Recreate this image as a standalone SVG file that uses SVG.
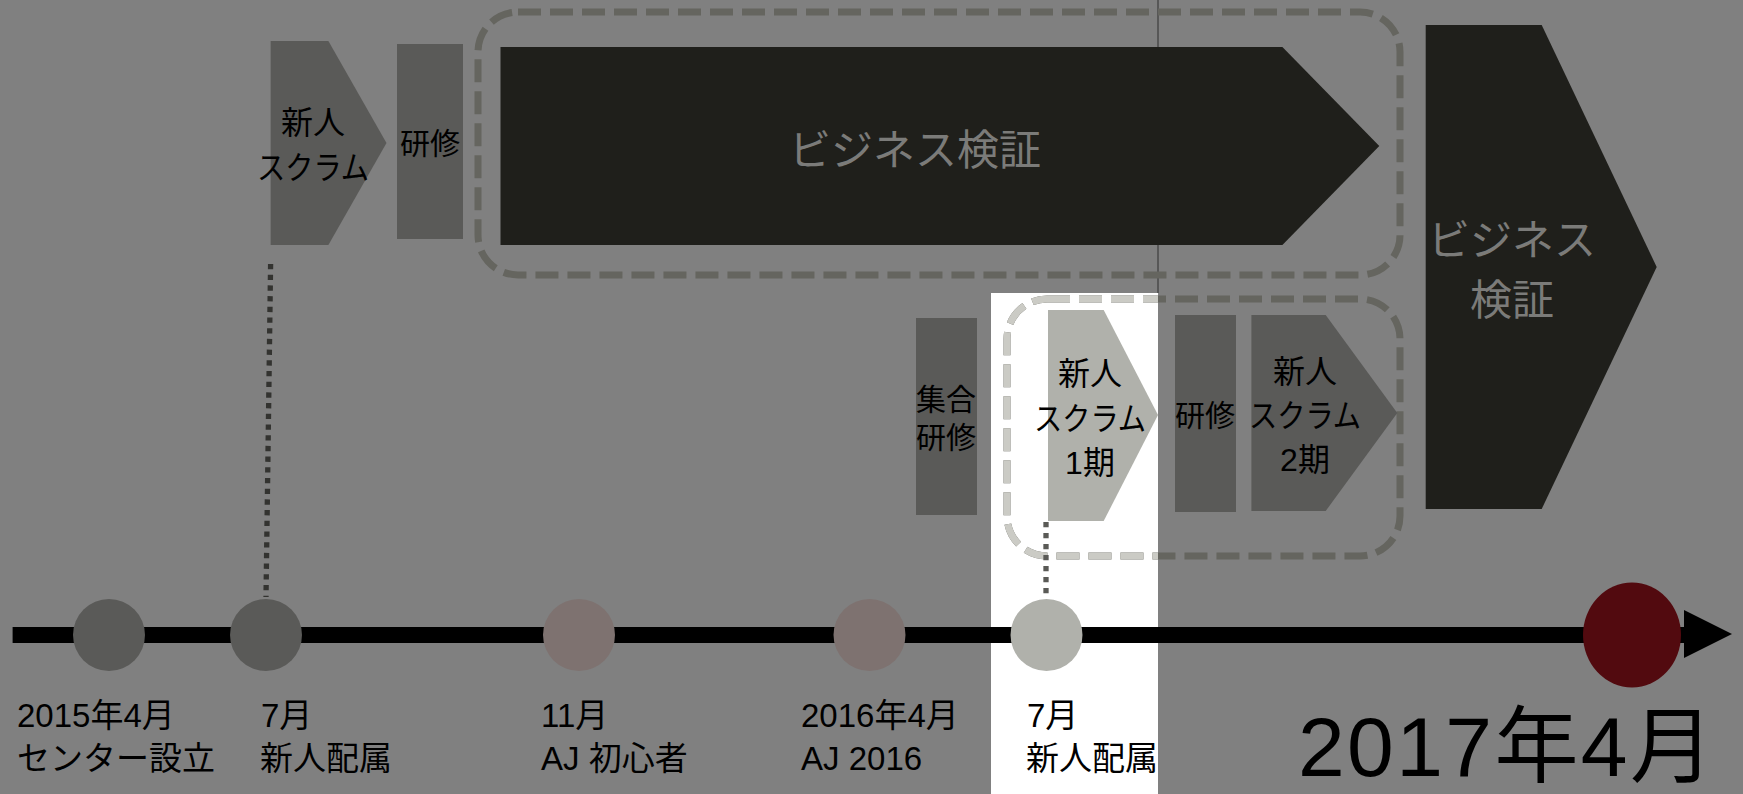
<svg xmlns="http://www.w3.org/2000/svg" width="1743" height="794" viewBox="0 0 1743 794">
<defs>
<style>
.t{font-family:"Liberation Sans","Noto Sans CJK JP",sans-serif;fill:#000}
.lbl{font-size:33px}
.nd{font-size:32px;text-anchor:middle}
.sm{font-size:30px;text-anchor:middle}
.big{font-size:42px;text-anchor:middle;fill:#7b7b79}
.mid{fill:#5a5a58}
.dark{fill:#1f1f1b}
.dashD{fill:none;stroke:#65655f;stroke-width:7;stroke-dasharray:23 9}
.dashL{fill:none;stroke:#cbcbc5;stroke-width:7;stroke-dasharray:23 9}
</style>
<clipPath id="spot"><rect x="991" y="293" width="167" height="501"/></clipPath>
</defs>
<rect id="background" x="0" y="0" width="1743" height="794" fill="#808080"/>
<rect id="spotlight" x="991" y="293" width="167" height="501" fill="#ffffff"/>
<line id="edge" x1="1158" y1="0" x2="1158" y2="293" stroke="#2e2e2e" stroke-width="1"/>

<g id="group-upper">
<rect x="478" y="12" width="922" height="263" rx="40" ry="40" class="dashD"/>
</g>
<g id="group-lower">
<rect x="1007" y="299" width="393" height="257" rx="40" ry="40" class="dashD"/>
<rect x="1007" y="299" width="393" height="257" rx="40" ry="40" class="dashL" clip-path="url(#spot)"/>
</g>

<g id="node-scrum0">
<polygon points="270.6,41 328.4,41 386.5,143 328.4,245 270.6,245" class="mid"/>
<text class="t nd" x="313" y="134">新人<tspan x="313" y="179" textLength="112" lengthAdjust="spacingAndGlyphs">スクラム</tspan></text>
</g>
<g id="node-kenshu0">
<rect x="397" y="44" width="66" height="195" class="mid"/>
<text class="t sm" x="430" y="154">研修</text>
</g>
<g id="node-biz1">
<polygon points="500.5,47 1282.4,47 1379.3,146 1282.4,245 500.5,245" class="dark"/>
<text class="t big" x="915" y="165">ビジネス検証</text>
</g>
<g id="node-biz2">
<polygon points="1425.7,25 1541.7,25 1656.7,267 1541.7,509 1425.7,509" class="dark"/>
<text class="t big" x="1512" y="255">ビジネス<tspan x="1512" y="315">検証</tspan></text>
</g>
<g id="node-shugo">
<rect x="916" y="318" width="61" height="197" class="mid"/>
<text class="t sm" x="946" y="410">集合<tspan x="946" y="448">研修</tspan></text>
</g>
<g id="node-scrum1">
<polygon points="1048,310 1103.7,310 1158,415 1103.7,521 1048,521" fill="#b0b1ab"/>
<text class="t nd" x="1090" y="385">新人<tspan x="1090" y="430" textLength="112" lengthAdjust="spacingAndGlyphs">スクラム</tspan><tspan x="1090" y="474">1期</tspan></text>
</g>
<g id="node-kenshu1">
<rect x="1175" y="315" width="61" height="197" class="mid"/>
<text class="t sm" x="1205" y="426">研修</text>
</g>
<g id="node-scrum2">
<polygon points="1251.4,315 1325.7,315 1397.3,413 1325.7,511 1251.4,511" class="mid"/>
<text class="t nd" x="1305" y="383">新人<tspan x="1305" y="427" textLength="112" lengthAdjust="spacingAndGlyphs">スクラム</tspan><tspan x="1305" y="471">2期</tspan></text>
</g>

<g id="connectors">
<line x1="270.6" y1="264" x2="266" y2="597" stroke="#333330" stroke-width="5.3" stroke-dasharray="5.3 5.4"/>
<line x1="1046" y1="522" x2="1046" y2="597" stroke="#5a5a56" stroke-width="5.3" stroke-dasharray="5.3 5.7"/>
<rect x="12.6" y="627" width="1673" height="16" fill="#000"/>
<polygon points="1684,610 1732,634 1684,658" fill="#000"/>
</g>

<g id="milestone-2015-04">
<circle cx="109" cy="635" r="36" fill="#5a5a58"/>
<text class="t lbl" x="17" y="727">2015年4月<tspan x="17" y="770">センター設立</tspan></text>
</g>
<g id="milestone-2015-07">
<circle cx="266" cy="635" r="36" fill="#5a5a58"/>
<text class="t lbl" x="261" y="727">7月<tspan x="260" y="770">新人配属</tspan></text>
</g>
<g id="milestone-2015-11">
<circle cx="579" cy="635" r="36" fill="#7e7270"/>
<text class="t lbl" x="541" y="727">11月<tspan x="541" y="770">AJ 初心者</tspan></text>
</g>
<g id="milestone-2016-04">
<circle cx="869.5" cy="635" r="36" fill="#7e7270"/>
<text class="t lbl" x="801" y="727">2016年4月<tspan x="801" y="770">AJ 2016</tspan></text>
</g>
<g id="milestone-2016-07">
<circle cx="1046.5" cy="635" r="36" fill="#b0b1ab"/>
<text class="t lbl" x="1027" y="727">7月<tspan x="1026" y="770">新人配属</tspan></text>
</g>
<g id="milestone-2017-04">
<ellipse cx="1632" cy="635" rx="49" ry="52.5" fill="#520a0f"/>
<text class="t" x="1298" y="776" font-size="84" textLength="416" lengthAdjust="spacing">2017年4月</text>
</g>
</svg>
